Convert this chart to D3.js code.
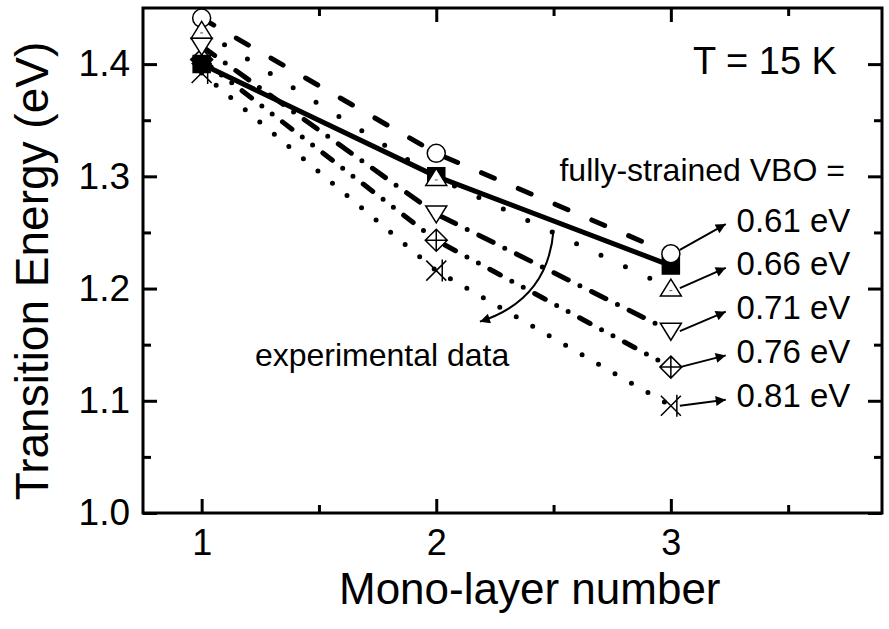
<!DOCTYPE html>
<html>
<head>
<meta charset="utf-8">
<script src="https://cdn.jsdelivr.net/npm/d3@7"></script>
<style>
  body { margin: 0; background: #fff; }
  svg { font-family: "Liberation Sans", Arial, sans-serif; }
</style>
</head>
<body>
<div id="chart"></div>
<script>
// Data
const layers = [1, 2, 3];
const experimental = [1.400, 1.300, 1.2205];
const vboLabels = ["0.61 eV", "0.66 eV", "0.71 eV", "0.76 eV", "0.81 eV"];
const vbo061 = [1.441, 1.3205, 1.231];
const vbo066 = [1.430, 1.299, 1.2004];
const vbo071 = [1.416, 1.2665, 1.162];
const vbo076 = [1.404, 1.243, 1.130];
const vbo081 = [1.392, 1.216, 1.0955];
const labelY = [1.261, 1.222, 1.183, 1.144, 1.1045];
const yTicks = [1.0, 1.1, 1.2, 1.3, 1.4];
const yMinor = [1.05, 1.15, 1.25, 1.35];
const xTicks = [1, 2, 3];
const xMinor = [1.5, 2.5, 3.5];

const W = 889, H = 629;
const margin = { top: 8, right: 7, bottom: 116, left: 143 };
const width = W - margin.left - margin.right;
const height = H - margin.top - margin.bottom;

const svg = d3.select("#chart").append("svg")
  .attr("width", W)
  .attr("height", H);

const g = svg.append("g")
  .attr("transform", `translate(${margin.left},${margin.top})`);

const x = d3.scaleLinear().domain([0.75, 3.9]).range([0, width]);
const y = d3.scaleLinear().domain([1.0, 1.45]).range([height, 0]);

// arrow head
svg.append("defs").append("marker")
  .attr("id", "head")
  .attr("viewBox", "0 0 10 10")
  .attr("refX", 10).attr("refY", 5)
  .attr("markerUnits", "userSpaceOnUse")
  .attr("markerWidth", 18).attr("markerHeight", 10)
  .attr("orient", "auto")
  .append("path")
  .attr("d", "M0,0 L10,5 L0,10 Z")
  .attr("fill", "#000");

// axes: ticks pointing inward on all four sides
function styleAxis(sel) {
  sel.select(".domain").remove();
  sel.selectAll("line").attr("stroke", "#000").attr("stroke-width", 3);
  sel.selectAll("text").attr("fill", "#000");
}

g.append("g").attr("transform", `translate(0,${height})`)
  .call(d3.axisBottom(x).tickValues(xTicks).tickFormat(d3.format("d"))
    .tickSizeInner(-14).tickSizeOuter(0).tickPadding(16))
  .call(styleAxis)
  .selectAll("text").attr("font-size", 36);
g.append("g").attr("transform", `translate(0,${height})`)
  .call(d3.axisBottom(x).tickValues(xMinor).tickFormat("").tickSizeInner(-8).tickSizeOuter(0))
  .call(styleAxis);
g.append("g")
  .call(d3.axisTop(x).tickValues(xTicks).tickFormat("").tickSizeInner(-14).tickSizeOuter(0))
  .call(styleAxis);
g.append("g")
  .call(d3.axisTop(x).tickValues(xMinor).tickFormat("").tickSizeInner(-8).tickSizeOuter(0))
  .call(styleAxis);

g.append("g")
  .call(d3.axisLeft(y).tickValues(yTicks).tickFormat(d3.format(".1f"))
    .tickSizeInner(-14).tickSizeOuter(0).tickPadding(13))
  .call(styleAxis)
  .selectAll("text").attr("font-size", 37);
g.append("g")
  .call(d3.axisLeft(y).tickValues(yMinor).tickFormat("").tickSizeInner(-8).tickSizeOuter(0))
  .call(styleAxis);
g.append("g").attr("transform", `translate(${width},0)`)
  .call(d3.axisRight(y).tickValues(yTicks).tickFormat("").tickSizeInner(-14).tickSizeOuter(0))
  .call(styleAxis);
g.append("g").attr("transform", `translate(${width},0)`)
  .call(d3.axisRight(y).tickValues(yMinor).tickFormat("").tickSizeInner(-8).tickSizeOuter(0))
  .call(styleAxis);

// frame
g.append("rect")
  .attr("width", width).attr("height", height)
  .attr("fill", "none").attr("stroke", "#000").attr("stroke-width", 3);

// series definitions (line style + marker)
const series = [
  { values: vbo061, dash: "14,26", shape: "circle" },
  { values: vbo066, dash: "0,27", shape: "up" },
  { values: vbo071, dash: "16,13,0,13", shape: "down" },
  { values: vbo076, dash: "12,13,0,13,0,13", shape: "diamond" },
  { values: vbo081, dash: "0,19", shape: "cross" }
];

const line = d3.line()
  .x((d, i) => x(layers[i]))
  .y(d => y(d));

series.forEach(s => {
  g.append("path")
    .datum(s.values)
    .attr("d", line)
    .attr("fill", "none")
    .attr("stroke", "#000")
    .attr("stroke-width", 5)
    .attr("stroke-linecap", "round")
    .attr("stroke-dasharray", s.dash);
});

g.append("path")
  .datum(experimental)
  .attr("d", line)
  .attr("fill", "none")
  .attr("stroke", "#000")
  .attr("stroke-width", 5);

const shapes = {
  circle: "M9,0 A9,9 0 1,1 -9,0 A9,9 0 1,1 9,0 Z",
  up: "M0,-9 L10.5,8 L-10.5,8 Z",
  down: "M-10.5,-8 L10.5,-8 L0,9 Z",
  diamond: "M0,-11 L11,0 L0,11 L-11,0 Z M0,-11 V11 M-11,0 H11",
  cross: "M-10,-10 L10,10 M-10,10 L10,-10 M6,-11 V11",
  square: "M-8.5,-8.5 H8.5 V8.5 H-8.5 Z"
};

function drawMarkers(values, shape, fill) {
  g.append("g").selectAll("path")
    .data(values)
    .join("path")
    .attr("transform", (d, i) => `translate(${x(layers[i])},${y(d)})`)
    .attr("d", shapes[shape])
    .attr("fill", fill)
    .attr("stroke", "#000")
    .attr("stroke-width", 1.5);
}

drawMarkers(vbo076, "diamond", "#fff");
drawMarkers(experimental, "square", "#000");
drawMarkers(vbo061, "circle", "#fff");
drawMarkers(vbo066, "up", "#fff");
// small dash inside the up triangles
g.append("g").selectAll("path")
  .data(vbo066)
  .join("path")
  .attr("transform", (d, i) => `translate(${x(layers[i])},${y(d)})`)
  .attr("d", "M-1.5,2.5 H1.5")
  .attr("stroke", "#555").attr("stroke-width", 1);
drawMarkers(vbo071, "down", "#fff");
drawMarkers(vbo081, "cross", "none");

// arrows from the 3 ML points to the VBO labels
const endPoints = series.map(s => s.values[2]);
g.append("g").selectAll("line")
  .data(endPoints)
  .join("line")
  .attr("x1", x(3) + 9)
  .attr("y1", (d, i) => y(d) - (i === 0 ? 4 : 0))
  .attr("x2", x(3.234))
  .attr("y2", (d, i) => y(labelY[i]) + 4)
  .attr("stroke", "#000")
  .attr("stroke-width", 2)
  .attr("marker-end", "url(#head)");

g.append("g").selectAll("text")
  .data(vboLabels)
  .join("text")
  .attr("x", x(3.28))
  .attr("y", (d, i) => y(labelY[i]))
  .attr("dy", "0.35em")
  .attr("font-size", 33)
  .text(d => d);

g.append("text")
  .attr("x", x(3.742)).attr("y", y(1.2955))
  .attr("text-anchor", "end")
  .attr("font-size", 32)
  .text("fully-strained VBO =");

g.append("text")
  .attr("x", x(3.708)).attr("y", y(1.391))
  .attr("text-anchor", "end")
  .attr("font-size", 38)
  .text("T = 15 K");

// curved arrow toward the experimental data label
g.append("path")
  .attr("d", `M${x(2.5)},${y(1.252)} Q${x(2.476)},${y(1.19)} ${x(2.186)},${y(1.1705)}`)
  .attr("fill", "none")
  .attr("stroke", "#000")
  .attr("stroke-width", 2)
  .attr("marker-end", "url(#head)");

g.append("text")
  .attr("x", x(1.227)).attr("y", y(1.131))
  .attr("font-size", 32)
  .text("experimental data");

// axis titles
g.append("text")
  .attr("x", 196)
  .attr("y", 604 - margin.top)
  .attr("font-size", 44)
  .text("Mono-layer number");

g.append("text")
  .attr("transform", "rotate(-90)")
  .attr("x", -(271 - margin.top))
  .attr("y", 48 - margin.left)
  .attr("text-anchor", "middle")
  .attr("font-size", 46)
  .text("Transition Energy (eV)");
</script>
</body>
</html>
